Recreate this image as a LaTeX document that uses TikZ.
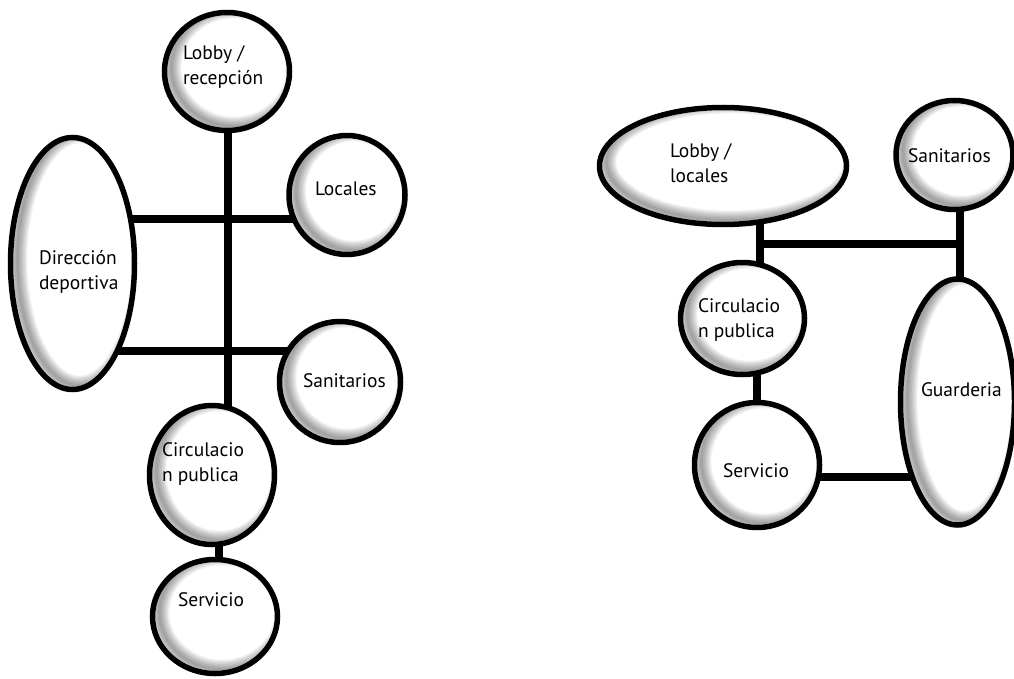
\documentclass[tikz,border=0pt]{standalone}
\usepackage{fontspec}
\setmainfont{PT Sans}
\usetikzlibrary{shapes.geometric}
\pgfdeclarelayer{back}
\pgfdeclarelayer{bg}
\pgfsetlayers{back,bg,main}
\tikzset{
  bub/.style={ellipse, draw=black, line width=5.5pt, fill=white, inner sep=0pt, outer sep=0pt},
  link/.style={line width=8pt, black},
  linkshade/.style={line width=8pt, black, opacity=0.15},
  lab/.style={anchor=base west, inner sep=0pt, outer sep=0pt, font=\fontsize{19.5}{24}\selectfont},
}
\newcommand\mybubble[5]{%
  \node[bub, minimum width=#4pt, minimum height=#5pt] (#1) at (#2,#3) {};
  \begin{scope}
    \clip (#2,#3) ellipse [x radius=#4/2-2.75, y radius=#5/2-2.75];
    \foreach \k in {1,...,7}{
      \draw[black, opacity=0.06, line width=\k*2.8pt] (#2+7,#3-4) ellipse [x radius=#4/2, y radius=#5/2];
    }
  \end{scope}
}
\begin{document}
\begin{tikzpicture}[x=1pt,y=-1pt]
\useasboundingbox (0,0) rectangle (1014,679);
\begin{pgfonlayer}{back}
  \fill[white] (0,0) rectangle (1014,679);
\end{pgfonlayer}

% ---------- left diagram ----------
\mybubble{lobbyL}{227}{71.5}{125}{118}
\mybubble{locales}{347}{195}{116}{119}
\mybubble{direccion}{72.5}{263.5}{124}{252}
\mybubble{sanL}{340}{382}{121}{121}
\mybubble{circL}{212}{475}{125}{139}
\mybubble{servL}{215}{616.5}{125}{114}

% ---------- right diagram ----------
\mybubble{lobbyR}{723}{166}{247}{117}
\mybubble{sanR}{954.5}{155}{117}{109}
\mybubble{circR}{742.5}{318.5}{124}{112}
\mybubble{servR}{757}{465}{125}{125}
\mybubble{guard}{957.5}{402}{114}{246}

% guide coordinates for connector rows / columns
\coordinate (colA) at (228,0);
\coordinate (colB) at (219,0);
\coordinate (rowA) at (0,219);
\coordinate (rowB) at (0,351);
\coordinate (colC) at (760,0);
\coordinate (colD) at (960,0);
\coordinate (colE) at (757,0);
\coordinate (rowC) at (0,244);
\coordinate (rowD) at (0,477);

\begin{pgfonlayer}{bg}
  \begin{scope}[yshift=-3pt]
    \draw[linkshade] (direccion.center |- rowA) -- (locales.center |- rowA);
    \draw[linkshade] (direccion.center |- rowB) -- (sanL.center |- rowB);
    \draw[linkshade] (colC |- rowC) -- (colD |- rowC);
    \draw[linkshade] (servR.center |- rowD) -- (guard.center |- rowD);
  \end{scope}
  \draw[link] (colA |- lobbyL.center) -- (colA |- circL.center);
  \draw[link] (direccion.center |- rowA) -- (locales.center |- rowA);
  \draw[link] (direccion.center |- rowB) -- (sanL.center |- rowB);
  \draw[link] (colB |- circL.center) -- (colB |- servL.center);
  \draw[link] (colC |- lobbyR.center) -- (colC |- circR.center);
  \draw[link] (colC |- rowC) -- (colD |- rowC);
  \draw[link] (colD |- sanR.center) -- (colD |- guard.center);
  \draw[link] (colE |- circR.center) -- (colE |- servR.center);
  \draw[link] (servR.center |- rowD) -- (guard.center |- rowD);
\end{pgfonlayer}

% ---------- labels ----------
\node[lab] (t1a) at (183,60) {Lobby /};
\node[lab] (t1b) at (183,85) {recepción};
\node[lab] (t2) at (315,196) {Locales};
\node[lab] (t3a) at (39,264) {Dirección};
\node[lab] (t3b) at (39,289) {deportiva};
\node[lab] (t4) at (303,387) {Sanitarios};
\node[lab] (t5a) at (162,456) {Circulacio};
\node[lab] (t5b) at (162,481) {n publica};
\node[lab] (t6) at (178,606) {Servicio};

\node[lab] (r1a) at (670,158) {Lobby /};
\node[lab] (r1b) at (670,183) {locales};
\node[lab] (r2) at (908,163) {Sanitarios};
\node[lab] (r3a) at (698,312) {Circulacio};
\node[lab] (r3b) at (698,337) {n publica};
\node[lab] (r4) at (723,477) {Servicio};
\node[lab] (r5) at (921,396) {Guarderia};
\end{tikzpicture}
\end{document}
